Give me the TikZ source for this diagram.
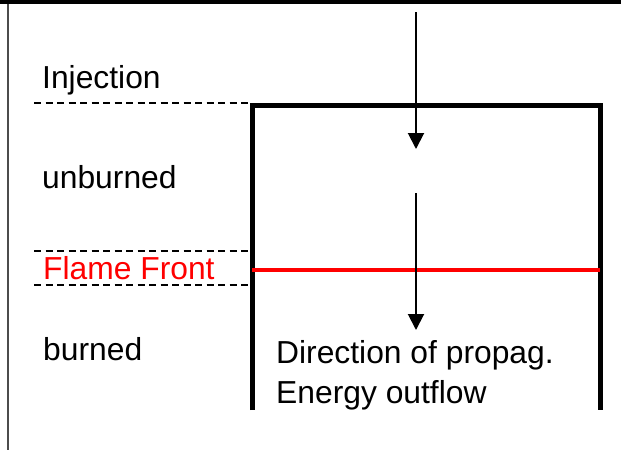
\documentclass[tikz,border=0pt]{standalone}
\usepackage{fontspec}
\setmainfont{Liberation Sans}
\usetikzlibrary{arrows.meta}
\begin{document}
\begin{tikzpicture}[x=1pt,y=-1pt,
  label/.style={anchor=base west,inner sep=0pt,font=\fontsize{31.8}{40}\selectfont},
  guide/.style={line width=1.5pt,dash pattern=on 7pt off 4.5pt},
  wall/.style={line width=5pt,line join=miter},
  flow/.style={line width=2pt,-{Triangle[width=16pt,length=16pt]}}]
  \useasboundingbox (0,0) rectangle (621,450);
  % frame: heavy top rule and thin left rule
  \fill[black] (0,0) rectangle (621,4);
  \draw[black!70,line width=2pt] (7.5,4) -- (7.5,450);
  % region labels
  \node[label] (inj) at (42,88) {Injection};
  \node[label] (unb) at (42,188) {unburned};
  \node[label,text=red] (ff) at (43,279) {Flame Front};
  \node[label] (bur) at (43,360) {burned};
  \node[label] (dir) at (276,363) {Direction of propag.};
  \node[label] (eng) at (276,403) {Energy outflow};
  % guide lines to the chamber wall
  \coordinate (g1a) at (34,103);  \coordinate (g1b) at (252,103);
  \coordinate (g2a) at (34,251);  \coordinate (g2b) at (252,251);
  \coordinate (g3a) at (34,285);  \coordinate (g3b) at (252,285);
  \draw[guide] (g1a) -- (g1b);
  \draw[guide] (g2a) -- (g2b);
  \draw[guide] (g3a) -- (g3b);
  % chamber walls
  \coordinate (wl) at (252,410); \coordinate (wtl) at (252,105);
  \coordinate (wtr) at (600,105); \coordinate (wr) at (600,410);
  \draw[wall] (wl) -- (wtl) -- (wtr) -- (wr);
  % flame front
  \coordinate (fl) at (252,270); \coordinate (fr) at (600,270);
  \draw[red,line width=4.5pt] (fl) -- (fr);
  % flow arrows
  \coordinate (a1s) at (416,12);  \coordinate (a1e) at (416,149);
  \coordinate (a2s) at (416,193); \coordinate (a2e) at (416,330);
  \draw[flow] (a1s) -- (a1e);
  \draw[flow] (a2s) -- (a2e);
\end{tikzpicture}
\end{document}
